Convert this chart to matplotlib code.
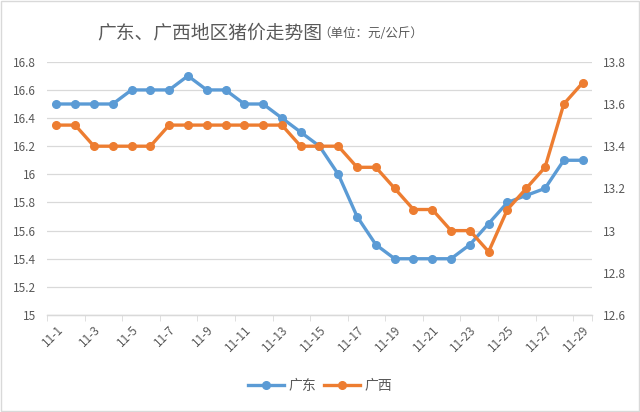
import matplotlib
matplotlib.use('Agg')
import matplotlib.pyplot as plt
from matplotlib.patches import Rectangle
from matplotlib.ticker import FixedLocator

plt.rcParams['font.family'] = ['Noto Sans CJK SC', 'DejaVu Sans']

# 11-1 .. 11-29
days = ['11-%d' % d for d in range(1, 30)]
guangdong = [16.5, 16.5, 16.5, 16.5, 16.6, 16.6, 16.6, 16.7, 16.6, 16.6,
             16.5, 16.5, 16.4, 16.3, 16.2, 16.0, 15.7, 15.5, 15.4, 15.4,
             15.4, 15.4, 15.5, 15.65, 15.8, 15.85, 15.9, 16.1, 16.1]
guangxi = [13.5, 13.5, 13.4, 13.4, 13.4, 13.4, 13.5, 13.5, 13.5, 13.5,
           13.5, 13.5, 13.5, 13.4, 13.4, 13.4, 13.3, 13.3, 13.2, 13.1,
           13.1, 13.0, 13.0, 12.9, 13.1, 13.2, 13.3, 13.6, 13.7]
left_ticks = [15, 15.2, 15.4, 15.6, 15.8, 16, 16.2, 16.4, 16.6, 16.8]
left_labels = ['15', '15.2', '15.4', '15.6', '15.8', '16', '16.2', '16.4', '16.6', '16.8']
right_ticks = [12.6, 12.8, 13, 13.2, 13.4, 13.6, 13.8]
right_labels = ['12.6', '12.8', '13', '13.2', '13.4', '13.6', '13.8']

BLUE = '#5B9BD5'
ORANGE = '#ED7D31'
TXT = '#595959'
GRID = '#D9D9D9'

fig = plt.figure(figsize=(6.4, 4.12), dpi=100)
ax = fig.add_axes([0.0734, 0.2354, 0.8516, 0.6146])
ax2 = ax.twinx()

x = list(range(len(days)))
l1, = ax.plot(x, guangdong, color=BLUE, lw=2.4, marker='o', ms=5.5, label='广东', zorder=3)
l2, = ax2.plot(x, guangxi, color=ORANGE, lw=2.4, marker='o', ms=5.5, label='广西', zorder=3)

ax.set_xlim(-0.5, len(days) - 0.5)
ax.set_ylim(15, 16.8)
ax2.set_ylim(12.6, 13.8)

ax.set_yticks(left_ticks)
ax.set_yticklabels(left_labels)
ax2.set_yticks(right_ticks)
ax2.set_yticklabels(right_labels)
ax.yaxis.grid(True, color=GRID, lw=0.9)
ax.set_axisbelow(True)

# labels on every other day, tick marks on the category boundaries
ax.set_xticks(x[::2])
ax.set_xticklabels(days[::2], rotation=45, ha='right', va='top', rotation_mode='anchor')
ax.xaxis.set_minor_locator(FixedLocator([i - 0.5 for i in range(0, len(days) + 1, 2)] + [len(days) - 0.5]))
ax.tick_params(axis='x', which='major', length=0, pad=6, labelsize=8.5, labelcolor=TXT)
ax.tick_params(axis='x', which='minor', length=4, color=GRID)
ax.tick_params(axis='y', length=0, labelsize=8.5, labelcolor=TXT, pad=8)
ax2.tick_params(axis='y', length=0, labelsize=8.5, labelcolor=TXT, pad=8)

for a in (ax, ax2):
    for side in ('top', 'left', 'right'):
        a.spines[side].set_visible(False)
    a.spines['bottom'].set_color(GRID)
    a.spines['bottom'].set_linewidth(0.9)

fig.text(0.152, 0.92, '广东、广西地区猪价走势图', fontsize=13.5, color=TXT, ha='left', va='center')
fig.text(0.497, 0.918, '（单位：元/公斤）', fontsize=9, color=TXT, ha='left', va='center')

fig.legend(handles=[l1, l2], loc='center', bbox_to_anchor=(0.5, 0.064), ncol=2, frameon=False,
           fontsize=10, labelcolor=TXT, handlelength=2.6, columnspacing=0.6, handletextpad=0.3)

fig.patches.append(Rectangle((0.002, 0.002), 0.996, 0.996, transform=fig.transFigure,
                             fill=False, edgecolor='#D9D9D9', lw=1))

fig.savefig('out.png', dpi=100, facecolor='white')
